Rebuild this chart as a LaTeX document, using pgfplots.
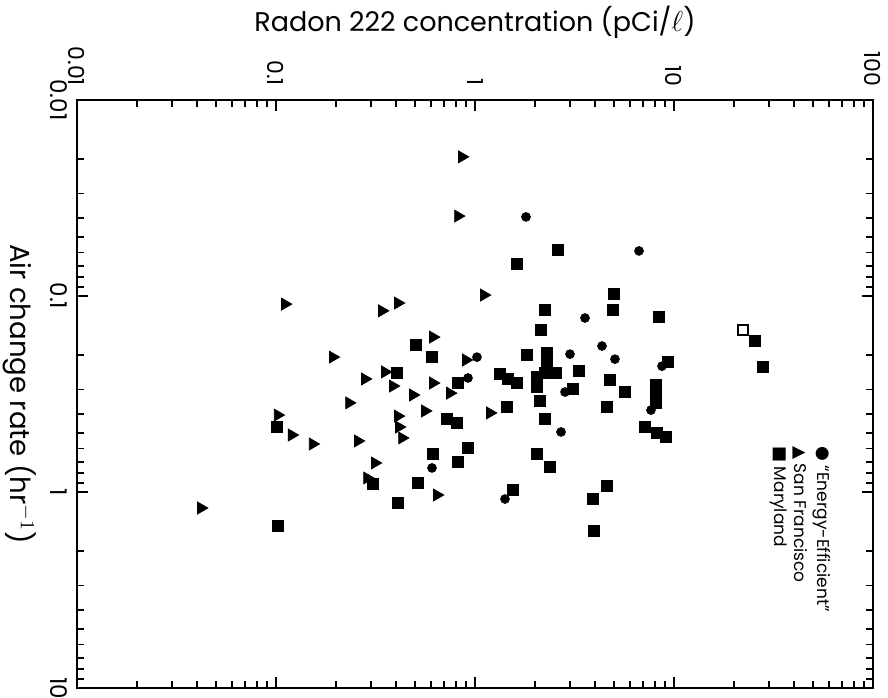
\documentclass[border=0pt]{standalone}
\usepackage{fontspec}
\setmainfont{Poppins}
\newfontfamily\symfont{DejaVu Sans}
\usepackage{pgfplots}
\pgfplotsset{compat=1.18}

\begin{document}
\begin{tikzpicture}
\begin{axis}[
    scale only axis,
    width=398pt,
    height=294pt,
    xmode=log,
    ymode=log,
    xmin=0.01, xmax=100,
    ymin=0.01, ymax=10,
    y dir=reverse,
    log ticks with fixed point,
    /pgf/number format/assume math mode=true,
    /pgf/number format/precision=2,
    xtick={0.01,0.1,1,10,100},
    ytick={0.01,0.1,1,10},
    minor xtick={0.02,0.03,0.04,0.05,0.06,0.07,0.08,0.09,0.2,0.3,0.4,0.5,0.6,0.7,0.8,0.9,2,3,4,5,6,7,8,9,20,30,40,50,60,70,80,90},
    minor ytick={0.02,0.03,0.04,0.05,0.06,0.07,0.08,0.09,0.2,0.3,0.4,0.5,0.6,0.7,0.8,0.9,2,3,4,5,6,7,8,9},
    xticklabel pos=upper,
    yticklabel pos=left,
    tick align=inside,
    major tick length=5.5pt,
    minor tick length=3.5pt,
    tick style={black, line width=0.9pt},
    axis line style={line width=1pt},
    xticklabel style={yshift=3.5pt, rotate=-90, anchor=east, font=\fontsize{11}{11}\selectfont},
    yticklabel style={xshift=-1.5pt, rotate=-90, anchor=north, font=\fontsize{11.5}{11.5}\selectfont},
    xlabel={Radon 222 concentration (pCi/$\ell$)},
    ylabel={Air change rate (hr$^{-1}$)},
    xlabel style={yshift=-3pt, font=\fontsize{13.5}{16}\selectfont},
    ylabel style={rotate=180, font=\fontsize{13.8}{16}\selectfont},
]

% "Energy-Efficient" houses
\addplot[only marks, mark=*, mark size=2.2pt, black] coordinates {
(0.608,0.754) (1.804,0.0395) (6.67,0.0589) (3.571,0.1295) (4.347,0.180)
(1.023,0.205) (3.001,0.198) (5.05,0.210) (8.70,0.228) (7.66,0.382)
(0.922,0.262) (2.834,0.309) (2.705,0.494) (1.415,1.086)
};

% San Francisco
\addplot[only marks, mark=triangle*, mark size=3.4pt, mark options={rotate=-90}, black] coordinates {
(0.111,0.110) (0.341,0.119) (0.410,0.1086) (0.615,0.162) (0.193,0.205)
(0.280,0.265) (0.353,0.244) (0.387,0.288) (0.488,0.320) (0.615,0.278)
(0.233,0.351) (0.561,0.386) (0.102,0.405) (0.120,0.512) (0.153,0.569)
(0.258,0.549) (0.410,0.410) (0.415,0.466) (0.430,0.530) (0.314,0.711)
(0.287,0.848) (0.644,1.036) (0.042,1.207) (0.860,0.0195) (0.822,0.0391)
(1.110,0.0989) (0.901,0.212) (0.749,0.313) (1.190,0.395)
};

% Maryland
\addplot[only marks, mark=square*, mark size=2.7pt, black] coordinates {
(0.505,0.178) (0.608,0.205) (0.405,0.247) (0.101,0.466) (0.615,0.640)
(0.307,0.910) (0.517,0.900) (0.410,1.138) (0.102,1.491) (2.613,0.0582)
(1.626,0.0687) (4.994,0.0977) (2.247,0.118) (4.937,0.118) (8.41,0.128)
(2.146,0.149) (1.825,0.200) (2.300,0.195) (2.300,0.220) (2.247,0.247)
(2.553,0.247) (3.332,0.241) (4.768,0.268) (5.673,0.309) (9.33,0.217)
(8.12,0.284) (8.12,0.320) (8.12,0.351) (7.15,0.466) (8.22,0.500)
(9.12,0.524) (4.607,0.368) (0.822,0.278) (1.335,0.250) (1.465,0.265)
(1.626,0.278) (2.049,0.259) (2.049,0.291) (3.108,0.298) (2.121,0.343)
(1.448,0.368) (0.723,0.424) (0.812,0.445) (2.247,0.424) (0.922,0.596)
(0.822,0.703) (2.049,0.640) (2.382,0.746) (1.552,0.977) (4.607,0.932)
(3.917,1.086) (3.963,1.581) (25.5,0.170) (28.0,0.230)
};

% open square
\addplot[only marks, mark=square, mark size=2.4pt, mark options={line width=1pt}, black] coordinates {(22.2,0.149)};

% legend, set sideways like the rest of the figure
\node[rotate=-90, anchor=west, inner sep=0pt, font=\fontsize{8.5}{10}\selectfont]
    at (axis cs:55.4,0.582) {{\symfont ●}\ ``Energy-Efficient''};
\node[rotate=-90, anchor=west, inner sep=0pt, font=\fontsize{8.5}{10}\selectfont]
    at (axis cs:43.0,0.582) {{\symfont ▲}\ San Francisco};
\node[rotate=-90, anchor=west, inner sep=0pt, font=\fontsize{8.5}{10}\selectfont]
    at (axis cs:33.7,0.582) {{\symfont ■}\ Maryland};

\end{axis}
\pgfresetboundingbox
\path (-38.5pt,-4.5pt) rectangle (405.5pt,344pt);
\end{tikzpicture}
\end{document}
